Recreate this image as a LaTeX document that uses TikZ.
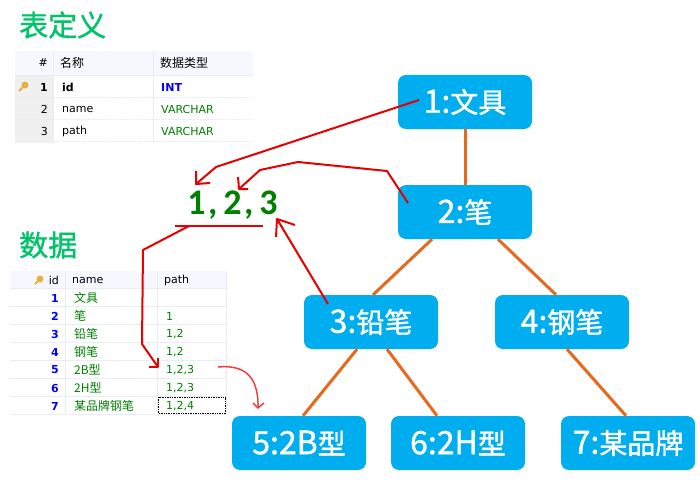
\documentclass[tikz,border=0pt]{standalone}
\usepackage{fontspec}
\setmainfont{Noto Sans CJK SC}
\newfontfamily\semi[FakeBold=1.2]{Noto Sans CJK SC}
\newfontfamily\lat{DejaVu Sans}
\newfontfamily\carl{Carlito}
\newcommand\bxt[2]{{\fontsize{32}{32}\selectfont #1}#2}
\definecolor{boxblue}{HTML}{00ADEF}
\definecolor{edgeor}{HTML}{E8681E}
\definecolor{headg}{HTML}{00C46A}
\definecolor{pathg}{HTML}{008000}
\definecolor{arrowred}{HTML}{E60000}
\definecolor{gridc}{HTML}{E8EDF3}
\definecolor{rowh}{HTML}{F0F0F0}
\definecolor{keyc}{HTML}{E8B040}
\tikzset{
 treebox/.style={fill=boxblue,rounded corners=8pt,text=white,font=\fontsize{28}{28}\selectfont\semi,inner sep=0pt,minimum height=54pt,minimum width=134pt},
 edge/.style={draw=edgeor,line width=3pt},
 redline/.style={draw=arrowred,line width=2pt,line join=round},
 softred/.style={draw=arrowred!75,line width=1.5pt,line join=round},
 heading/.style={text=headg,font=\fontsize{29}{29}\selectfont\semi,anchor=west,inner sep=0pt},
 cell/.style={font=\fontsize{12}{12}\selectfont,anchor=west,inner sep=0pt},
 lcell/.style={font=\fontsize{11}{11}\selectfont\lat,anchor=west,inner sep=0pt},
 num/.style={font=\fontsize{11}{11}\selectfont\lat,anchor=east,inner sep=0pt},
 grid/.style={draw=gridc,line width=0.7pt},
}
\begin{document}
\begin{tikzpicture}[x=1pt,y=-1pt]
\useasboundingbox (0,0) rectangle (700,500);
% tree
\node[treebox] (n1) at (465,102) {\raisebox{-1pt}{\bxt{1:}{文具}}};
\node[treebox] (n2) at (465,212) {\raisebox{-1pt}{\bxt{2:}{笔}}};
\node[treebox] (n3) at (371,322) {\raisebox{-1pt}{\bxt{3:}{铅笔}}};
\node[treebox] (n4) at (562,322) {\raisebox{-1pt}{\bxt{4:}{钢笔}}};
\node[treebox] (n5) at (299,443) {\raisebox{-1pt}{\bxt{5:2B}{型}}};
\node[treebox] (n6) at (458,443) {\raisebox{-1pt}{\bxt{6:2H}{型}}};
\node[treebox] (n7) at (628,443) {\raisebox{-1pt}{\bxt{7:}{某品牌}}};
\draw[edge] (n1.south) -- (n2.north);
\draw[edge] ([xshift=-33pt]n2.south) -- ([xshift=2pt]n3.north);
\draw[edge] ([xshift=33pt]n2.south) -- ([xshift=-6pt]n4.north);
\draw[edge] ([xshift=-14pt]n3.south) -- ([xshift=4pt]n5.north);
\draw[edge] ([xshift=16pt]n3.south) -- ([xshift=-21pt]n6.north);
\draw[edge] ([xshift=5pt]n4.south) -- ([xshift=-2pt]n7.north);
% headings
\node[heading] (h1) at (19,25) {表定义};
\node[heading] (h2) at (19,245) {数据};
% table 1
\fill[white!97!blue] (15,51) rectangle (253,75);
\fill[rowh] (15,76) rectangle (53,143);
\draw[grid] (15,75.5) -- (253,75.5);
\draw[grid] (53,51) -- (53,143);
\draw[grid] (153,51) -- (153,143);
\foreach \yy in {97.5,119.5,141.5} \draw[gridc,densely dotted] (15,\yy) -- (253,\yy);
\node[num] (t1h0) at (48,63) {\#};
\node[cell] (t1h1) at (60,63) {名称};
\node[cell] (t1h2) at (160,63) {数据类型};
\fill[keyc] (25,85) circle (3.5pt);
\draw[keyc,line width=2pt] (25,85) -- (19,91);
\node[num] (t1a) at (48,87) {\bfseries 1};
\node[lcell] (t1b) at (62,87) {\bfseries id};
\node[lcell,text=blue] (t1c) at (161,87) {\bfseries INT};
\node[num] (t2a) at (48,109) {2};
\node[lcell] (t2b) at (62,109) {name};
\node[lcell,text=pathg] (t2c) at (161,109) {VARCHAR};
\node[num] (t3a) at (48,131) {3};
\node[lcell] (t3b) at (62,131) {path};
\node[lcell,text=pathg] (t3c) at (161,131) {VARCHAR};
% table 2
\fill[white!97!blue] (10,271) rectangle (227,288);
\draw[grid] (10,288.5) -- (227,288.5);
\foreach \yy in {306.5,324.5,342.5,360.5,378.5,396.5,414.5} \draw[grid] (10,\yy) -- (227,\yy);
\draw[grid] (65.5,271) -- (65.5,414);
\draw[grid] (157.5,271) -- (157.5,414);
\draw[grid] (226.5,271) -- (226.5,414);
\fill[keyc] (40,279) circle (3.5pt);
\draw[keyc,line width=2pt] (40,279) -- (35,284);
\node[num] (d0) at (59,280) {id};
\node[lcell] (d1) at (72,280) {name};
\node[lcell] (d2) at (164,280) {path};
\foreach \i/\yy/\nm/\pth in {1/298/文具/,2/316/笔/1,3/334/铅笔/{1,2},4/352/钢笔/{1,2},5/370/2B型/{1,2,3},6/388/2H型/{1,2,3},7/406/某品牌钢笔/{1,2,4}}{
 \node[num,text=blue] (r\i) at (59,\yy) {\bfseries \i};
 \node[cell,text=pathg] (s\i) at (74,\yy) {\nm};
 \node[lcell,text=pathg] (u\i) at (166,\yy) {\pth};
}
\draw[densely dotted,line width=0.7pt] (158.5,397) rectangle (225.5,413.5);
% path text
\node[font=\fontsize{36}{36}\selectfont\bfseries\carl,text=pathg,inner sep=0pt] (p) at (232.5,205) {1\hspace{2.5pt},\,2\hspace{2.5pt},\,3};
% red
\coordinate (a1) at (419,100);
\coordinate (a1t) at (196,184);
\draw[redline] (a1) -- (216,167) -- (a1t);
\draw[redline] (196,171) -- (a1t) -- (210,183);
\coordinate (a2) at (408,203);
\coordinate (a2t) at (239,189);
\draw[redline] (a2) -- (387,171) -- (298,162) -- (260,170) -- (a2t);
\draw[redline] (238,177) -- (a2t) -- (248,189);
\coordinate (a3) at (328,304);
\coordinate (a3t) at (277,219);
\draw[redline] (a3) -- (a3t);
\draw[redline] (276,237) -- (a3t) -- (295,225);
\coordinate (l1) at (175,226);
\coordinate (l2) at (263,226);
\draw[redline] (l1) -- (l2);
\coordinate (a4) at (189,226);
\coordinate (a4t) at (158,367);
\draw[redline] (a4) -- (143,250) -- (142,344) -- (a4t);
\draw[redline] (149,367) -- (a4t) -- (158,358);
\coordinate (c1) at (218,367);
\coordinate (c2) at (258,408);
\draw[softred] (c1) .. controls (240,365) and (259,372) .. (c2);
\draw[softred] (253,403) -- (c2) -- (264,403);
\end{tikzpicture}
\end{document}
